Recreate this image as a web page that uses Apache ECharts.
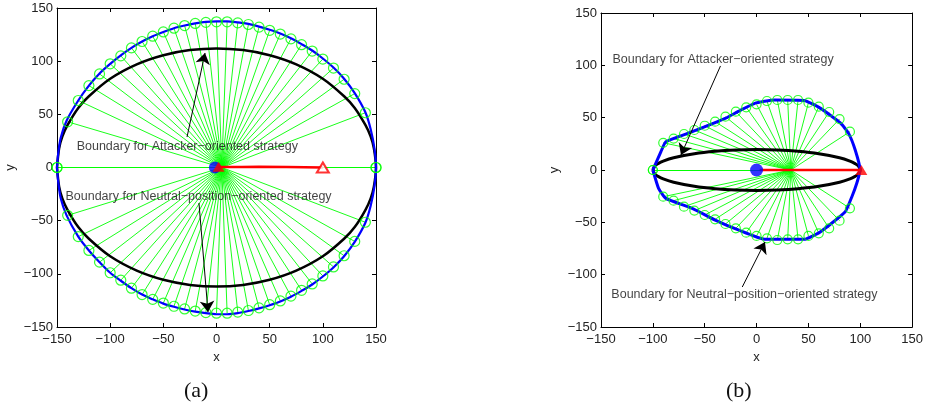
<!DOCTYPE html>
<html><head><meta charset="utf-8">
<script src="https://cdn.jsdelivr.net/npm/echarts@6/dist/echarts.min.js"></script>
<style>html,body{margin:0;padding:0;background:#fff}#c{width:926px;height:410px}</style>
</head><body><div id="c"></div>
<script>
// ---------- shared ticks ----------
const tickValues = [-150, -100, -50, 0, 50, 100, 150];
const tickLabels = ['−150', '−100', '−50', '0', '50', '100', '150'];

// ---------- panel (a) ----------
const aCircX      = [-150,-140,-130,-120,-110,-100,-90,-80,-70,-60,-50,-40,-30,-20,-10,0,10,20,30,40,50,60,70,80,90,100,110,120,130,140,150];
const aCircUpperY = [0,43,63,77,88,97.5,105,112.5,118.5,123.5,127.5,131,133.5,135.5,136.5,137,137,136,134.5,132,129,125.5,121,115.5,109.5,102,93.5,83,69.5,51.5,0];
const aCircLowerY = [0,-45,-65,-78,-89,-99,-106,-113.5,-119.5,-124,-127.5,-130.5,-133,-135,-136.5,-137,-137,-136,-134.5,-132,-129,-125.5,-121,-115.5,-109.5,-102,-93.5,-83,-69.5,-51.5,0];
const aRayOrigin  = [5, 0];
const aBlueUpper  = [[-150,0],[-149,12],[-146.5,28],[-141,44],[-130,63],[-120,77],[-110,88.5],[-100,97.5],[-90,105.5],[-80,112.5],[-70,118.5],[-60,123.5],[-50,127.5],[-40,131],[-30,133.5],[-20,135.5],[-10,137],[0,137.5],[10,137.5],[20,136.5],[30,135],[40,132.5],[50,129.5],[60,126],[70,121.5],[80,116],[90,110],[100,102.5],[110,94],[120,83.5],[130,70],[140,52],[145,36],[148.5,18],[150,0]];
const aBlueLower  = [[150,0],[148.5,-18],[145,-36],[140,-52],[130,-70],[120,-83.5],[110,-94],[100,-102.5],[90,-110],[80,-116],[70,-121.5],[60,-126],[50,-129.5],[40,-132.5],[30,-135],[20,-137],[10,-138],[0,-138],[-10,-137],[-20,-135.5],[-30,-133.5],[-40,-131],[-50,-128],[-60,-124],[-70,-119.5],[-80,-113.5],[-90,-106.5],[-100,-99],[-110,-89],[-120,-78],[-130,-65],[-141,-45],[-146.5,-29],[-149,-12],[-150,0]];
const aBlackUpper = [[-150,0],[-148,18],[-145,29],[-140,40],[-130,56],[-120,67],[-100,83.5],[-75,97],[-50,105.6],[-25,110.4],[0,112],[25,110.4],[50,105.6],[75,97],[100,83.5],[120,67],[130,56],[140,40],[145,29],[148,18],[150,0]];
const aBlackLower = [[150,0],[148,-18],[145,-29],[140,-40],[130,-56],[120,-67],[100,-83.5],[75,-97],[50,-105.6],[25,-110.4],[0,-112],[-25,-110.4],[-50,-105.6],[-75,-97],[-100,-83.5],[-120,-67],[-130,-56],[-140,-40],[-145,-29],[-148,-18],[-150,0]];
const aRedPath    = [[2,0.5],[40,0.6],[100,0]];
const aPursuer    = [-1.5, 0];
const aAttackerNow  = [2, 0.8];
const aAttackerInit = [100, 0];
const aNoteTexts  = ['Boundary for Attacker−oriented strategy', 'Boundary for Neutral−position−oriented strategy'];
const aNoteAt     = [[-132, 20], [-142.5, -27.7]];
const aArrows     = [[[-27.7, 28.7], [-10.8, 107.7]], [[-16.5, -33.4], [-8, -135.9]]];

// ---------- panel (b) ----------
const bCircX      = [-100,-90,-80,-70,-60,-50,-40,-30,-20,-10,0,10,20,30,40,50,60,70,80,90];
const bCircUpperY = [0,26,30,34.4,38.2,42.3,46.2,50.9,55.7,59.9,62.7,65.9,66.9,66.9,66.9,64.3,60.5,55.4,48.7,36.6];
const bCircLowerY = [0,-25.5,-29.3,-35,-38.8,-43,-47.1,-51.6,-55.7,-59.9,-63,-65.3,-66.9,-66.2,-66.2,-63,-60.5,-55.7,-48.4,-36.6];
const bRayOrigin  = [33, 0];
const bBlueUpper  = [[-100,0],[-92.2,17.5],[-87.5,27],[-62,36.6],[-30.3,49.3],[-17.6,56],[-1.8,63.7],[17.3,66.9],[45.9,66.5],[61.7,58.9],[80.8,45],[88.7,35],[95.1,19.1],[99.8,0]];
const bBlueLower  = [[99.8,0],[96.6,-12.7],[91.9,-25.5],[85.5,-39.8],[61.7,-58.9],[45.9,-66.2],[7.8,-66.2],[-17.6,-57.3],[-39.9,-47.8],[-62.1,-36.6],[-87.5,-27.1],[-94.5,-17.5],[-100,0]];
const bBlackUpper = [[-100,0],[-98,4],[-95,6.1],[-90,8.5],[-80,11.7],[-60,15.6],[-40,17.9],[-20,19.1],[0,19.5],[20,19.1],[40,17.9],[60,15.6],[80,11.7],[90,8.5],[95,6.1],[98,4],[100,0]];
const bBlackLower = [[100,0],[98,-4],[95,-6.1],[90,-8.5],[80,-11.7],[60,-15.6],[40,-17.9],[20,-19.1],[0,-19.5],[-20,-19.1],[-40,-17.9],[-60,-15.6],[-80,-11.7],[-90,-8.5],[-95,-6.1],[-98,-4],[-100,0]];
const bRedPath    = [[3,0],[100,0]];
const bPursuer    = [0, 0];
const bAttacker   = [101, 0];
const bNoteTexts  = ['Boundary for Attacker−oriented strategy', 'Boundary for Neutral−position−oriented strategy'];
const bNoteAt     = [[-139.5, 106], [-140.5, -119.4]];
const bArrows     = [[[-34.8, 99.4], [-72.9, 14.3]], [[-13.8, -111.8], [8.1, -68.8]]];

const captions = ['(a)', '(b)'];

// ---------- builders ----------
const GREEN = '#00ff00';
const FONT = 'Liberation Sans';
function fmt(v) { const i = tickValues.indexOf(v); return i >= 0 ? tickLabels[i] : ''; }

function axisPair(gridIndex, isX) {
  const common = {
    gridIndex, type: 'value', min: -150, max: 150, interval: 50,
    splitLine: { show: false },
    axisLine: { show: true, onZero: false, lineStyle: { color: '#000', width: 1 } },
    axisTick: { show: true, inside: true, length: 4, lineStyle: { color: '#000' } }
  };
  const main = Object.assign({}, common, {
    position: isX ? 'bottom' : 'left',
    name: isX ? 'x' : 'y', nameLocation: 'middle',
    nameGap: isX ? 20 : 40,
    nameTextStyle: { fontFamily: FONT, fontSize: 13, color: '#222' },
    axisLabel: { show: true, margin: isX ? 6 : 4, formatter: fmt, fontFamily: FONT, fontSize: 13, color: '#222' }
  });
  const other = Object.assign({}, common, {
    position: isX ? 'top' : 'right',
    axisLabel: { show: false }
  });
  return [main, other];
}

function pts(xs, ys) { return xs.map((x, i) => [x, ys[i]]); }

function panelSeries(axIdx, P) {
  const circUp = pts(P.cx, P.cuy), circLo = pts(P.cx, P.cly);
  const rays = circUp.concat(circLo).map(c => ({ coords: [P.origin, c] }));
  const ax = { xAxisIndex: axIdx, yAxisIndex: axIdx };
  const s = [];
  s.push(Object.assign({ type: 'lines', coordinateSystem: 'cartesian2d', data: rays, z: 1,
    lineStyle: { color: GREEN, width: 0.9, opacity: 1 }, silent: true }, ax));
  s.push(Object.assign({ type: 'line', data: P.blackUp.concat(P.blackLo.slice(1)), smooth: 0.3, symbol: 'none', z: 3,
    lineStyle: { color: '#000', width: P.blackW } }, ax));
  s.push(Object.assign({ type: 'line', data: P.blueUp.concat(P.blueLo.slice(1)), smooth: P.blueSmooth, symbol: 'none', z: 4,
    lineStyle: { color: '#0000ff', width: P.blueW } }, ax));
  s.push(Object.assign({ type: 'scatter', data: circUp.concat(circLo), symbol: 'circle', symbolSize: P.circSize, z: 5,
    itemStyle: { color: 'rgba(0,0,0,0)', borderColor: GREEN, borderWidth: 1.2 } }, ax));
  s.push(Object.assign({ type: 'line', data: P.red, symbol: 'none', z: 6, smooth: 0.3,
    lineStyle: { color: '#ff0000', width: 2.5 } }, ax));
  s.push(Object.assign({ type: 'scatter', data: [P.pursuer], symbol: 'circle', symbolSize: P.pursuerSize, z: 7,
    itemStyle: { color: '#0000ff' } }, ax));
  P.tris.forEach(t => {
    s.push(Object.assign({ type: 'scatter', data: [t.at], symbol: 'triangle', symbolSize: [12, 10], z: 8,
      itemStyle: t.hollow ? { color: '#fff', borderColor: '#ff0000', borderWidth: 2 } : { color: '#ff0000' } }, ax));
  });
  s.push(Object.assign({ type: 'lines', coordinateSystem: 'cartesian2d', z: 9,
    data: P.arrows.map(a => ({ coords: a })), symbol: ['none', 'arrow'], symbolSize: [7, 11],
    lineStyle: { color: '#000', width: 1, opacity: 1 } }, ax));
  s.push(Object.assign({ type: 'scatter', z: 10, symbolSize: 1, itemStyle: { color: 'transparent' },
    data: P.notes.map((t, i) => ({ value: P.noteAt[i], name: t })),
    label: { show: true, position: 'right', distance: 0, formatter: p => p.name, fontFamily: FONT, fontSize: 12.5, color: '#111' } }, ax));
  return s;
}

const A = { cx: aCircX, cuy: aCircUpperY, cly: aCircLowerY, origin: aRayOrigin,
  blueUp: aBlueUpper, blueLo: aBlueLower, blackUp: aBlackUpper, blackLo: aBlackLower,
  red: aRedPath, pursuer: aPursuer, pursuerSize: 12,
  tris: [{ at: aAttackerInit, hollow: true }, { at: aAttackerNow, hollow: false }],
  arrows: aArrows, notes: aNoteTexts, noteAt: aNoteAt,
  blackW: 2.5, blueW: 2.2, blueSmooth: 0.3, circSize: 10 };
const B = { cx: bCircX, cuy: bCircUpperY, cly: bCircLowerY, origin: bRayOrigin,
  blueUp: bBlueUpper, blueLo: bBlueLower, blackUp: bBlackUpper, blackLo: bBlackLower,
  red: bRedPath, pursuer: bPursuer, pursuerSize: 13,
  tris: [{ at: bAttacker, hollow: false }],
  arrows: bArrows, notes: bNoteTexts, noteAt: bNoteAt,
  blackW: 3, blueW: 3, blueSmooth: 0.15, circSize: 9 };

const xa = axisPair(0, true), xb = axisPair(1, true);
const ya = axisPair(0, false), yb = axisPair(1, false);

const chart = echarts.init(document.getElementById('c'), null, { renderer: 'canvas' });
chart.setOption({
  animation: false,
  backgroundColor: '#fff',
  grid: [
    { left: 57, top: 8, width: 319, height: 319 },
    { left: 601, top: 13, width: 315, height: 314 }
  ],
  xAxis: [xa[0], xa[1], xb[0], xb[1]],
  yAxis: [ya[0], ya[1], yb[0], yb[1]],
  series: panelSeries(0, A).concat(panelSeries(2, B)),
  graphic: [
    { type: 'text', left: 184, top: 380, style: { text: captions[0], font: '22px "Liberation Serif"', fill: '#111' } },
    { type: 'text', left: 726, top: 380, style: { text: captions[1], font: '22px "Liberation Serif"', fill: '#111' } }
  ]
});
</script></body></html>
